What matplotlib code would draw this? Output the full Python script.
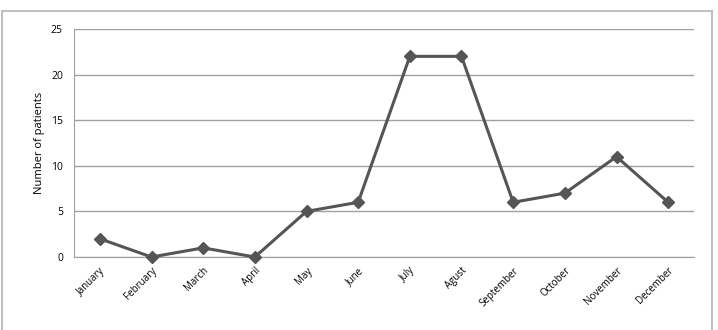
import matplotlib
matplotlib.use("agg")
import matplotlib.pyplot as plt
from matplotlib.patches import Rectangle

months = ["January", "February", "March", "April", "May", "June",
          "July", "Agust", "September", "October", "November", "December"]
patients = [2, 0, 1, 0, 5, 6, 22, 22, 6, 7, 11, 6]

plt.rcParams['font.family'] = ['Open Sans', 'DejaVu Sans']

fig = plt.figure(figsize=(7.18, 3.3), dpi=100)
# outer chart frame
fig.patches.append(Rectangle((2 / 718, -0.01), 710 / 718, 1 - 11 / 330 + 0.01,
                             transform=fig.transFigure, fill=False,
                             edgecolor='#c0c0c0', linewidth=1.5))

ax = fig.add_axes([74 / 718, 1 - 257 / 330, 620 / 718, 228 / 330])
x = range(len(months))
ax.plot(x, patients, color='#555555', marker='D', markersize=6, linewidth=2.2,
        zorder=3, clip_on=False)

ax.set_xlim(-0.5, len(months) - 0.5)
ax.set_ylim(0, 25)
ax.set_yticks([0, 5, 10, 15, 20, 25])
ax.set_xticks(list(x))
ax.set_xticklabels(months, rotation=45, ha='right', rotation_mode='anchor', fontsize=7)
ax.tick_params(axis='y', labelsize=7.5, length=0, pad=8)
ax.tick_params(axis='x', length=0, pad=6)
ax.set_ylabel('Number of patients', fontsize=8)

ax.yaxis.grid(True, color='#a0a0a0', linewidth=1)
ax.set_axisbelow(True)
for s in ['top', 'right']:
    ax.spines[s].set_visible(False)
ax.spines['left'].set_color('#a0a0a0')
ax.spines['bottom'].set_color('#a0a0a0')

fig.savefig('out.png', dpi=100)
